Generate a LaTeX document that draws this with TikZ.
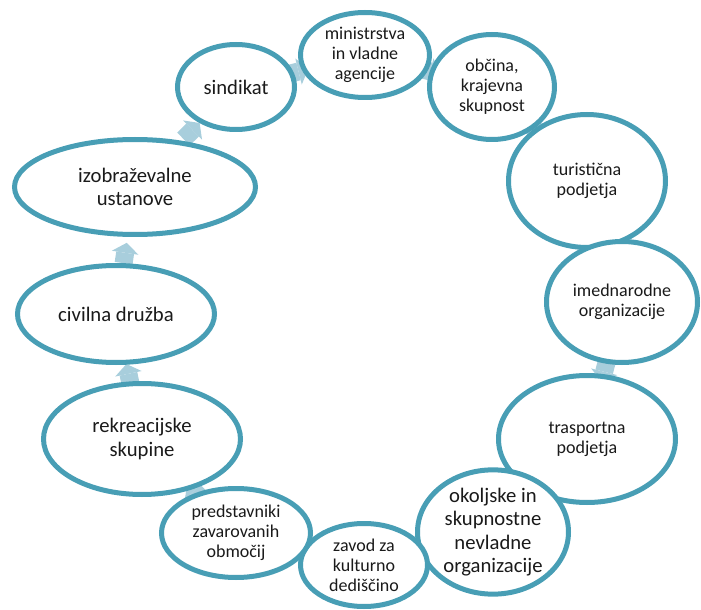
\documentclass[tikz,border=0pt]{standalone}
\usepackage{fontspec}
\setmainfont{Carlito}
\usepackage{tikz}
\usetikzlibrary{arrows.meta, shapes.geometric, calc}
\usepackage{xcolor}
\definecolor{ringblue}{RGB}{72,158,181}
\definecolor{arrowblue}{RGB}{168,206,220}
\definecolor{textgray}{RGB}{26,26,26}

\begin{document}
\begin{tikzpicture}[
    x=0.75pt, y=-0.75pt,
    oval/.style={ellipse, draw=ringblue, line width=3.75pt, fill=white, align=center, inner sep=0pt, text=textgray},
    bigoval/.style={oval, font=\fontsize{15.5}{17.5}\selectfont},
    smalloval/.style={oval, font=\fontsize{13.5}{15}\selectfont},
    cyclearrow/.style={arrowblue, line width=13.5pt, -{Triangle[width=20.25pt, length=7.5pt, line width=0pt 0]}}
]
    \useasboundingbox (0,0) rectangle (701,610);

    % positions of the ring (in pixels of the original)
    \coordinate (p1) at (236,87);
    \coordinate (p2) at (365,55);
    \coordinate (p3) at (492,87);
    \coordinate (p4) at (587,181);
    \coordinate (p5) at (622,302);
    \coordinate (p6) at (587,439);
    \coordinate (p7) at (493,532);
    \coordinate (p8) at (364,565);
    \coordinate (p9) at (236,533);
    \coordinate (p10) at (142,439);
    \coordinate (p11) at (116,314);
    \coordinate (p12) at (135,187);

    % arrows behind the ring
    \draw[cyclearrow] ($(p1)!0.38!(p2)$) -- ($(p1)!0.56!(p2)$);
    \draw[cyclearrow] ($(p2)!0.41!(p3)$) -- ($(p2)!0.59!(p3)$);
    \draw[cyclearrow] ($(p3)!0.41!(p4)$) -- ($(p3)!0.59!(p4)$);
    \draw[cyclearrow] ($(p4)!0.41!(p5)$) -- ($(p4)!0.59!(p5)$);
    \draw[cyclearrow] ($(p5)!0.42!(p6)$) -- ($(p5)!0.58!(p6)$);
    \draw[cyclearrow] ($(p6)!0.41!(p7)$) -- ($(p6)!0.59!(p7)$);
    \draw[cyclearrow] ($(p7)!0.41!(p8)$) -- ($(p7)!0.59!(p8)$);
    \draw[cyclearrow] ($(p8)!0.41!(p9)$) -- ($(p8)!0.59!(p9)$);
    \draw[cyclearrow] ($(p9)!0.36!(p10)$) -- ($(p9)!0.52!(p10)$);
    \draw[cyclearrow] ($(p10)!0.44!(p11)$) -- ($(p10)!0.60!(p11)$);
    \draw[cyclearrow] ($(p11)!0.40!(p12)$) -- ($(p11)!0.56!(p12)$);
    \draw[cyclearrow] ($(p12)!0.48!(p1)$) -- ($(p12)!0.64!(p1)$);

    % the ring
    \node[bigoval, minimum width=87.75pt, minimum height=63.75pt] (sindikat) at (p1) {sindikat};
    \node[smalloval, minimum width=96.75pt, minimum height=63.75pt] (ministrstva) at (p2) {ministrstva\\in vladne\\agencije};
    \node[smalloval, minimum width=93.75pt, minimum height=78.75pt] (obcina) at (p3) {občina,\\krajevna\\skupnost};
    \node[smalloval, minimum width=117.75pt, minimum height=99.75pt] (turisticna) at (p4) {turistična\\podjetja};
    \node[smalloval, minimum width=113.25pt, minimum height=90.75pt] (mednarodne) at (p5) {imednarodne\\organizacije};
    \node[smalloval, minimum width=132.75pt, minimum height=95.25pt] (transport) at (p6) {trasportna\\podjetja};
    \node[bigoval, minimum width=113.25pt, minimum height=87.75pt] (okoljske) at (p7) {okoljske in\\skupnostne\\nevladne\\organizacije};
    \node[smalloval, minimum width=95.25pt, minimum height=62.25pt] (zavod) at (p8) {zavod za\\kulturno\\dediščino};
    \node[smalloval, minimum width=111.75pt, minimum height=66.75pt] (predstavniki) at (p9) {predstavniki\\zavarovanih\\območij};
    \node[bigoval, minimum width=147.75pt, minimum height=83.25pt] (rekreacija) at (p10) {rekreacijske\\skupine};
    \node[bigoval, minimum width=147.75pt, minimum height=72.75pt] (civilna) at (p11) {civilna družba};
    \node[bigoval, minimum width=180.75pt, minimum height=71.25pt] (izobrazba) at (p12) {izobraževalne\\ustanove};
\end{tikzpicture}
\end{document}
